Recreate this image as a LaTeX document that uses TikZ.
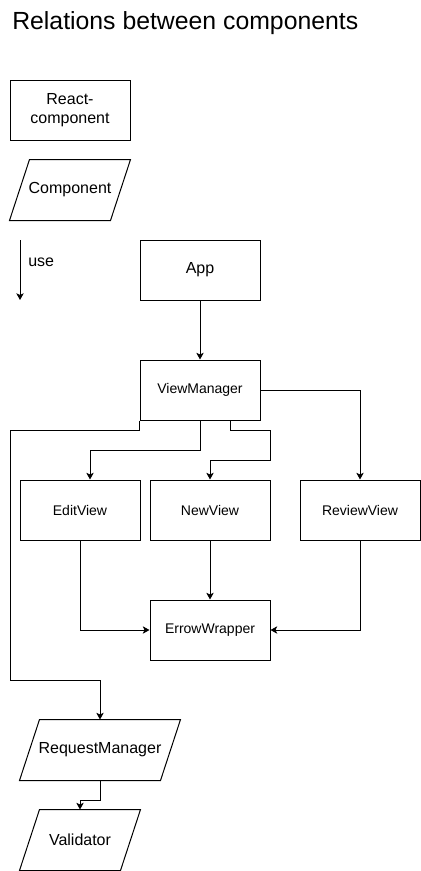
\documentclass[tikz,border=0pt]{standalone}
\usepackage{fontspec}
\setmainfont{Liberation Sans}
\usepackage{tikz}
\usetikzlibrary{arrows.meta,calc}

\begin{document}
\begin{tikzpicture}[
      x=0.75pt,
      y=-0.75pt,
      box/.style={
        draw,
        line width=0.75pt,
        fill=white,
        align=center,
        inner sep=2pt,
        minimum width=90pt,
        minimum height=45pt,
        font=\fontsize{12}{14}\selectfont
      },
      viewbox/.style={box, font=\fontsize{10.5}{12}\selectfont},
      iobox/.style={box, draw=none, fill=none, minimum height=45pt},
      flow/.style={-{Stealth[length=5pt,width=5.5pt,inset=1.2pt]}, line width=0.75pt},
      label/.style={font=\fontsize{12}{14}\selectfont, inner sep=0pt},
      title/.style={font=\fontsize{18.6}{22}\selectfont, inner sep=0pt}
    ]
    \useasboundingbox (0,0) rectangle (421,871);

    \node[title, anchor=base west] (title) at (12,29.5) {Relations between components};

    % legend
    \node[box] (react) at (70,110) {React-\\component};
    \node[iobox, minimum width=75pt] (comp) at (70,190) {Component};
    \coordinate (usetop) at (20,240);
    \coordinate (usebot) at (20,300);
    \draw[flow] (usetop) -- (usebot);
    \node[label, anchor=base west] (uselbl) at (28,266) {use};

    % components
    \node[box] (app) at (200,270) {App};
    \node[viewbox] (vm) at (200,390) {ViewManager};
    \node[viewbox] (edit) at (80,510) {EditView};
    \node[viewbox] (new) at (210,510) {NewView};
    \node[viewbox] (review) at (360,510) {ReviewView};
    \node[viewbox] (err) at (210,630) {ErrowWrapper};
    \node[iobox, minimum width=105pt] (rm) at (100,750) {RequestManager};
    \node[iobox, minimum width=75pt] (val) at (80,840) {Validator};

    \foreach \n in {comp,rm,val}
      \draw[line width=0.75pt] ($(\n.north west)+(10,0)$) -- ($(\n.north east)+(10,0)$)
        -- ($(\n.south east)+(-10,0)$) -- ($(\n.south west)+(-10,0)$) -- cycle;

    \coordinate (bend) at (10,680);

    \draw[flow] (app.south) -- (vm.north);
    \draw[flow] (vm.east) -| (review.north);
    \draw[flow] (vm.south) -- ++(0,30) -| ($(edit.north)+(10,0)$);
    \draw[flow] ($(vm.south)+(30,0)$) -- ++(0,10) -- ++(40,0) -- ++(0,30) -| (new.north);
    \draw[flow] (vm.south west) -- ++(0,10) -| (bend) -| (rm.north);
    \draw[flow] (edit.south) |- (err.west);
    \draw[flow] (new.south) -- (err.north);
    \draw[flow] (review.south) |- (err.east);
    \draw[flow] (rm.south) -- ++(0,20) -| (val.north);
  \end{tikzpicture}
\end{document}
